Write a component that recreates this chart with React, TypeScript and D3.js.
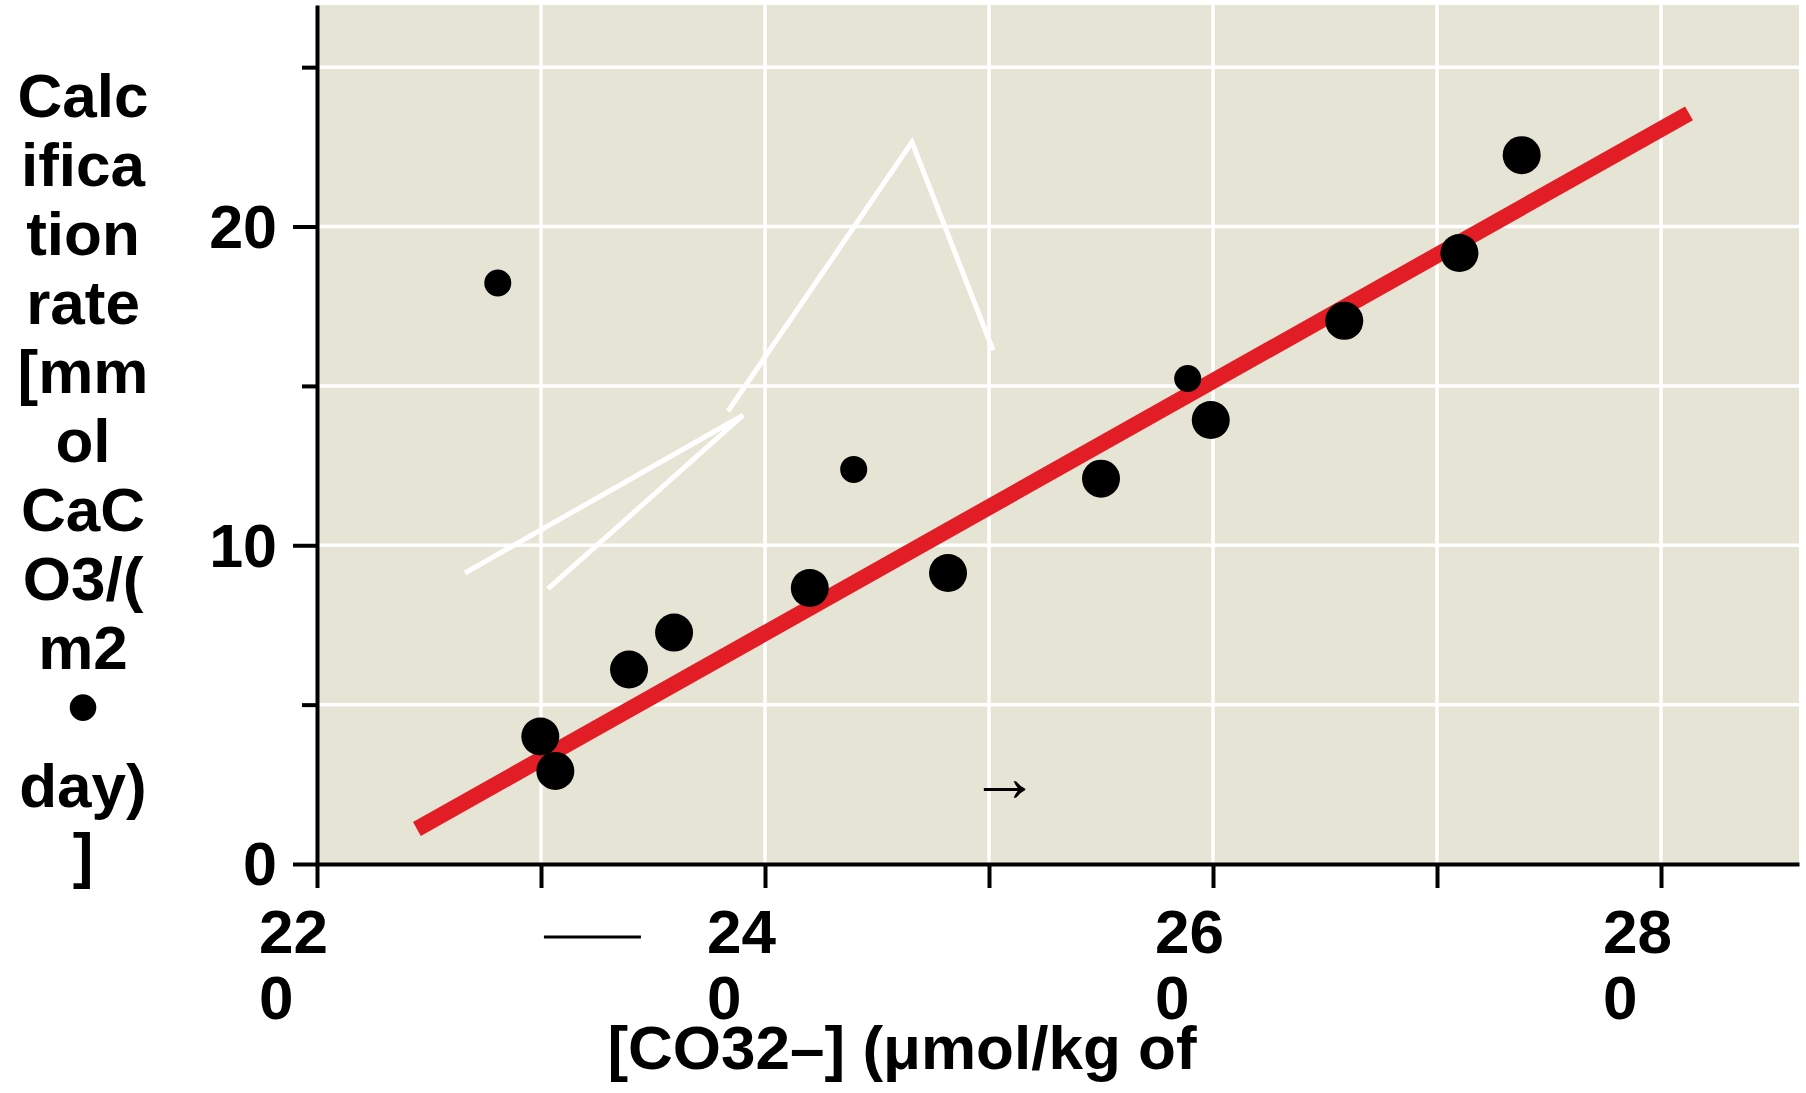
import React, { useRef, useEffect } from "react";
import * as d3 from "d3";

const WIDTH = 1806;
const HEIGHT = 1093;
const MARGIN = { top: 5, right: 7, bottom: 229, left: 317 };
const FONT = "'Liberation Sans', Arial, Helvetica, sans-serif";
const BG = "#e6e4d5";
const RED = "#e31d25";

// axis ranges ([CO3 2-] umol/kg vs calcification rate)
const X_DOMAIN = [220, 286.16];
const Y_DOMAIN = [0, 26.95];
const xTicks = [220, 230, 240, 250, 260, 270, 280];
const xLabelValues = [220, 240, 260, 280];
const xTickLabels = [["22", "0"], ["24", "0"], ["26", "0"], ["28", "0"]];
const yTicks = [0, 5, 10, 15, 20, 25];
const yLabelValues = [0, 10, 20];

// measurements (large dots)
const largeX = [229.97, 230.64, 233.93, 235.94, 242.0, 248.17, 255.0, 259.9, 265.86, 271.0, 273.78];
const largeY = [4.0, 2.92, 6.1, 7.26, 8.66, 9.13, 12.09, 13.93, 17.04, 19.17, 22.24];
// measurements (small dots)
const smallX = [228.07, 243.96, 258.87];
const smallY = [18.23, 12.38, 15.23];

// regression line end points
const fitX = [224.46, 281.25];
const fitY = [1.1, 23.55];

// stray white strokes inside the plot
const strokeA = [[226.61, 9.13], [239.02, 14.08], [230.31, 8.63]];
const strokeB = [[238.35, 14.21], [246.56, 22.65], [250.18, 16.12]];

// stray marks
const dashX = [230.13, 234.46];
const arrowPos = [250.7, 2.38];

const yTitleLines = ["Calc", "ifica", "tion", "rate", "[mm", "ol", "CaC", "O3/(", "m2", "•", "day)", "]"];
const xTitle = "[CO32–] (μmol/kg of";

export default function App() {
  const svgRef = useRef<SVGSVGElement | null>(null);

  useEffect(() => {
    const svg = d3.select(svgRef.current);
    svg.selectAll("*").remove();

    const x = d3.scaleLinear().domain(X_DOMAIN).range([MARGIN.left, WIDTH - MARGIN.right]);
    const y = d3.scaleLinear().domain(Y_DOMAIN).range([HEIGHT - MARGIN.bottom, MARGIN.top]);
    const x0 = MARGIN.left;
    const y0 = HEIGHT - MARGIN.bottom;

    // plot background
    svg
      .append("rect")
      .attr("x", x0)
      .attr("y", MARGIN.top)
      .attr("width", WIDTH - MARGIN.right - x0)
      .attr("height", y0 - MARGIN.top)
      .attr("fill", BG);

    // grid
    const grid = svg.append("g").attr("stroke", "#fff").attr("stroke-width", 3.5);
    grid
      .selectAll(".gx")
      .data(xTicks.slice(1))
      .join("line")
      .attr("x1", (d) => x(d))
      .attr("x2", (d) => x(d))
      .attr("y1", MARGIN.top)
      .attr("y2", y0);
    grid
      .selectAll(".gy")
      .data(yTicks.slice(1))
      .join("line")
      .attr("x1", x0)
      .attr("x2", WIDTH - MARGIN.right)
      .attr("y1", (d) => y(d))
      .attr("y2", (d) => y(d));

    // white strokes
    const line = d3
      .line<number[]>()
      .x((d) => x(d[0]))
      .y((d) => y(d[1]));
    [strokeA, strokeB].forEach((s) => {
      svg
        .append("path")
        .attr("d", line(s))
        .attr("fill", "none")
        .attr("stroke", "#fff")
        .attr("stroke-width", 5)
        .attr("stroke-linejoin", "miter")
        .attr("stroke-miterlimit", 4);
    });

    // regression line
    svg
      .append("line")
      .attr("x1", x(fitX[0]))
      .attr("y1", y(fitY[0]))
      .attr("x2", x(fitX[1]))
      .attr("y2", y(fitY[1]))
      .attr("stroke", RED)
      .attr("stroke-width", 16);

    // dots
    svg
      .append("g")
      .selectAll("circle")
      .data(largeX.map((v, i) => [v, largeY[i]]))
      .join("circle")
      .attr("cx", (d) => x(d[0]))
      .attr("cy", (d) => y(d[1]))
      .attr("r", 19)
      .attr("fill", "#000");
    svg
      .append("g")
      .selectAll("circle")
      .data(smallX.map((v, i) => [v, smallY[i]]))
      .join("circle")
      .attr("cx", (d) => x(d[0]))
      .attr("cy", (d) => y(d[1]))
      .attr("r", 13.5)
      .attr("fill", "#000");

    // arrow glyph
    svg
      .append("text")
      .attr("x", x(arrowPos[0]))
      .attr("y", y(arrowPos[1]))
      .attr("dy", 13)
      .attr("text-anchor", "middle")
      .attr("font-family", FONT)
      .attr("font-size", 70)
      .attr("fill", "#000")
      .text("→");

    // x axis
    const xAxis = svg
      .append("g")
      .attr("transform", `translate(0,${y0})`)
      .call(d3.axisBottom(x).tickValues(xTicks).tickSize(24).tickSizeOuter(0).tickFormat(() => ""));
    xAxis.select(".domain").attr("stroke", "#000").attr("stroke-width", 4);
    xAxis.selectAll(".tick line").attr("stroke", "#000").attr("stroke-width", 4);

    // y axis
    const yAxis = svg
      .append("g")
      .attr("transform", `translate(${x0},0)`)
      .call(d3.axisLeft(y).tickValues(yTicks).tickSize(24).tickSizeOuter(0).tickFormat(() => ""));
    yAxis.select(".domain").attr("stroke", "#000").attr("stroke-width", 4);
    yAxis
      .selectAll(".tick line")
      .attr("stroke", "#000")
      .attr("stroke-width", 4)
      .attr("x2", (d: any) => (yLabelValues.includes(d) ? -24 : -15));

    // y tick labels
    svg
      .append("g")
      .selectAll("text")
      .data(yLabelValues)
      .join("text")
      .attr("x", x0 - 40)
      .attr("y", (d) => y(d))
      .attr("dy", "0.35em")
      .attr("text-anchor", "end")
      .attr("font-family", FONT)
      .attr("font-weight", "bold")
      .attr("font-size", 61)
      .text((d) => d);

    // x tick labels, wrapped onto two lines
    const xl = svg
      .append("g")
      .selectAll("text")
      .data(xLabelValues)
      .join("text")
      .attr("font-family", FONT)
      .attr("font-weight", "bold")
      .attr("font-size", 62)
      .attr("text-anchor", "start");
    xl.each(function (d, i) {
      const t = d3.select(this);
      xTickLabels[i].forEach((part, j) => {
        t.append("tspan")
          .attr("x", x(d) - 58)
          .attr("y", y0 + 89 + j * 66)
          .text(part);
      });
    });

    // stray dash under the axis
    svg
      .append("line")
      .attr("x1", x(dashX[0]))
      .attr("x2", x(dashX[1]))
      .attr("y1", y0 + 73)
      .attr("y2", y0 + 73)
      .attr("stroke", "#000")
      .attr("stroke-width", 3);

    // x title
    svg
      .append("text")
      .attr("x", 902)
      .attr("y", 1069)
      .attr("text-anchor", "middle")
      .attr("font-family", FONT)
      .attr("font-weight", "bold")
      .attr("font-size", 62)
      .text(xTitle);

    // y title, one word piece per line (the bullet is drawn larger)
    svg
      .append("g")
      .selectAll("text")
      .data(yTitleLines)
      .join("text")
      .attr("x", 83)
      .attr("y", (d, i) => 117 + i * 69)
      .attr("text-anchor", "middle")
      .attr("font-family", FONT)
      .attr("font-weight", "bold")
      .attr("font-size", (d) => (d === "•" ? 93 : 62))
      .text((d) => d);
  }, []);

  return (
    <svg
      ref={svgRef}
      width={WIDTH}
      height={HEIGHT}
      style={{ position: "absolute", left: 0, top: 0, display: "block", background: "#fff" }}
    />
  );
}
